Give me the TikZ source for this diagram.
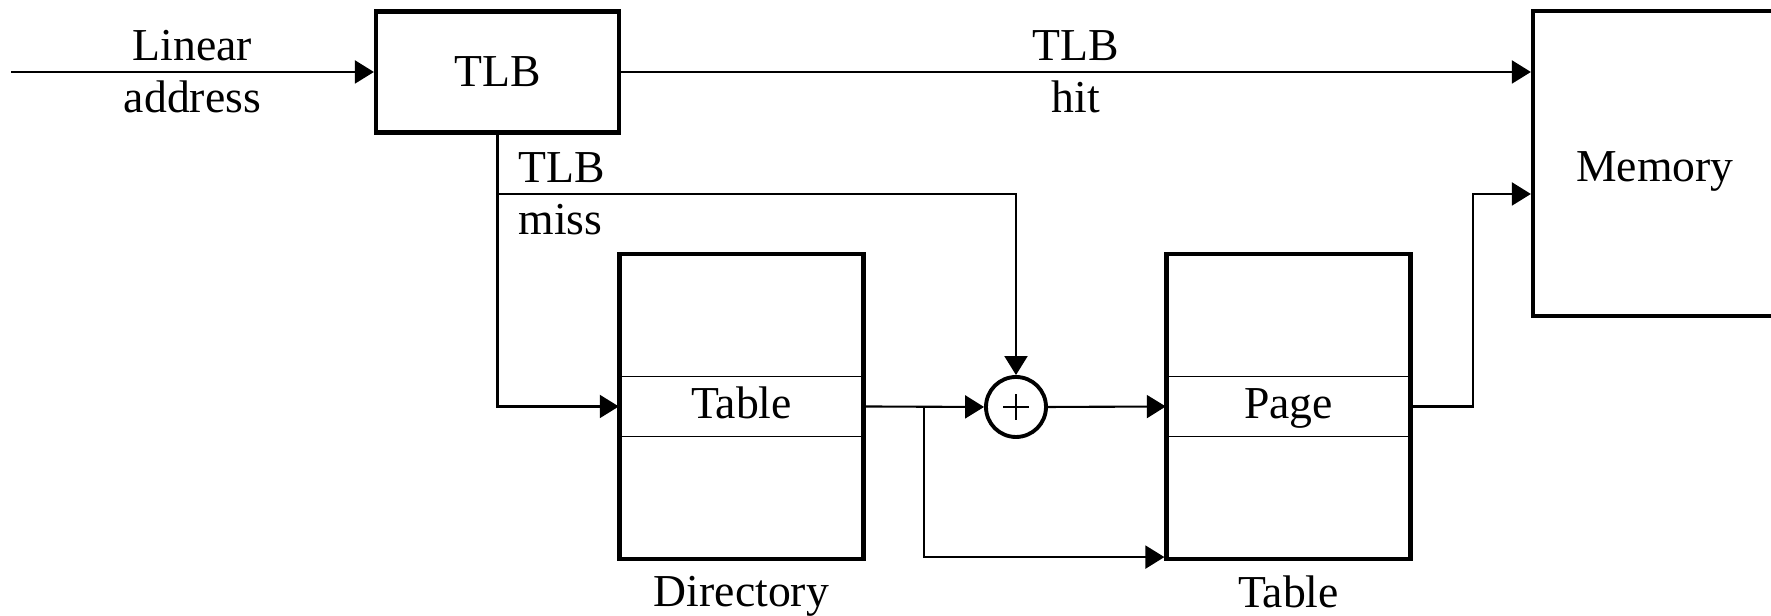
\documentclass[tikz,border=0pt]{standalone}
\usepackage{fontspec}
\setmainfont{Liberation Serif}
\usetikzlibrary{arrows.meta,positioning}
\begin{document}
\begin{tikzpicture}[font=\fontsize{13}{14.8}\selectfont,
        box/.style={rectangle,draw,line width=1.2pt,minimum height=1.21cm},
        tab/.style={rectangle,draw,line width=1.2pt,minimum width=2.44cm,minimum height=3.05cm},
        entry/.style={rectangle,draw,line width=0.4pt,minimum width=2.44cm,minimum height=0.6cm,inner sep=0pt,text height=0.7em,text depth=0pt},
        arr/.style={-{Triangle[length=0.19cm,width=0.23cm]},line width=0.6pt},
        lbl/.style={align=center,inner sep=1pt}]
        \useasboundingbox (0,0) rectangle (17.71,6.16);
        \node[box,minimum width=2.43cm] at (4.975,5.44) (tlb) {TLB};
        \node[box,minimum width=2.44cm,minimum height=3.05cm,text height=10pt,text depth=0pt] at (16.55,4.525) (mem) {Memory};
        \node[tab] at (7.415,2.095) (dir) {};
        \node[entry] at (dir.center) (dirent) {Table};
        \node[tab] at (12.885,2.095) (pt) {};
        \node[entry] at (pt.center) (ptent) {Page};
        \node[circle,draw,line width=1.1pt,minimum size=0.6cm,inner sep=0pt] at (10.16,2.09) (sum) {};
        \draw[line width=0.4pt] ([xshift=-0.13cm]sum.center) -- ([xshift=0.13cm]sum.center);
        \draw[line width=0.4pt] ([yshift=-0.13cm]sum.center) -- ([yshift=0.13cm]sum.center);
        \node[lbl,below=3pt of dir] (dirlbl) {Directory};
        \node[lbl,below=3pt of pt] (ptlbl) {Table};
        \coordinate (in) at (0.11,5.44);
        \draw[arr] (in) --node[lbl,midway] {Linear\\address} (tlb);
        \draw[arr] (tlb.east) --node[lbl,midway] {TLB\\hit} (tlb.east -| mem.west);
        \draw[arr] (tlb.south) |- (dirent.west);
        \coordinate (miss) at (4.975,4.22);
        \draw[arr] (miss) -| (sum.north);
        \node[anchor=west,align=left,inner sep=1pt] at ([xshift=0.17cm]miss) {TLB\\miss};
        \draw[arr] (dirent.east) -- (sum.west);
        \coordinate (split) at (9.24,2.09);
        \draw[arr] (split) |- ([yshift=0.04cm]pt.south west);
        \draw[arr] (sum.east) -- (ptent.west);
        \draw[arr] (ptent.east) -- ++(0.62,0) |- ([yshift=-0.305cm]mem.west);
    \end{tikzpicture}
\end{document}
